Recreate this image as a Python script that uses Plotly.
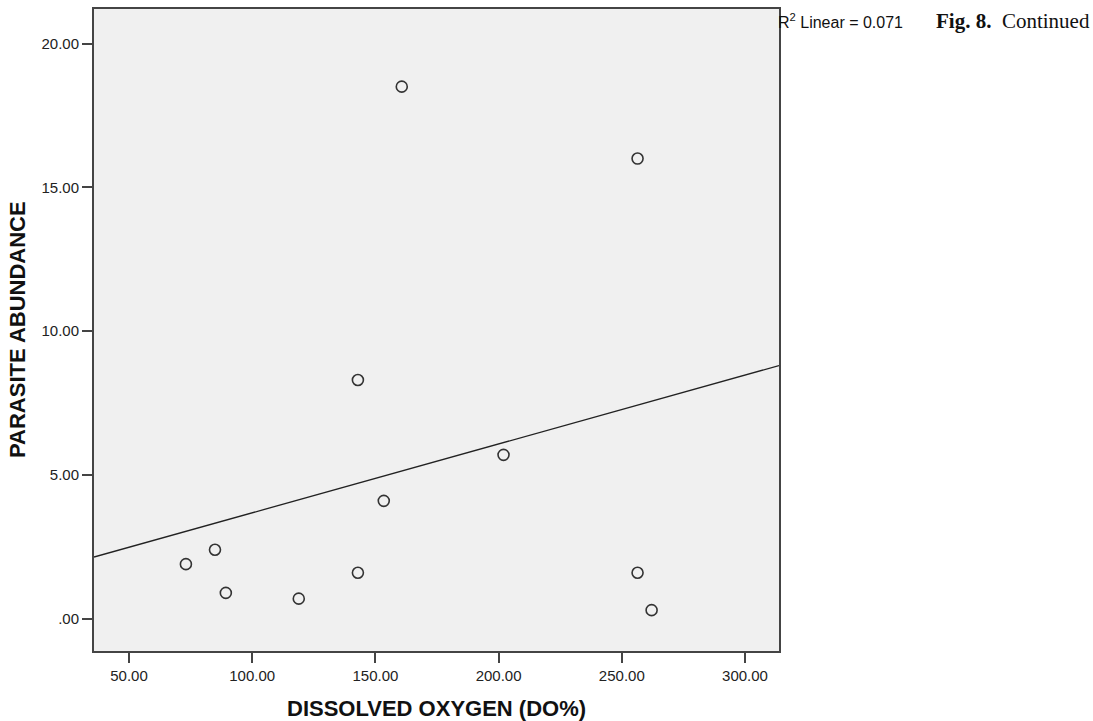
import numpy as np
import plotly.graph_objects as go

# Data
dissolved_oxygen = [73.1, 84.9, 89.3, 118.9, 142.9, 142.9, 153.4, 160.7, 202.0, 256.4, 256.4, 262.1]
parasite_abundance = [1.9, 2.4, 0.9, 0.7, 1.6, 8.3, 4.1, 18.5, 5.7, 16.0, 1.6, 0.3]

x_tick_vals = [50, 100, 150, 200, 250, 300]
x_tick_text = ["50.00", "100.00", "150.00", "200.00", "250.00", "300.00"]
y_tick_vals = [0, 5, 10, 15, 20]
y_tick_text = [".00", "5.00", "10.00", "15.00", "20.00"]

x_range = [35.8, 313.8]
y_range = [-1.12, 21.2]

# Linear fit
slope, intercept = np.polyfit(dissolved_oxygen, parasite_abundance, 1)
fit_x = np.array(x_range)
fit_y = slope * fit_x + intercept

fig = go.Figure()
fig.add_trace(go.Scatter(
    x=fit_x, y=fit_y, mode="lines",
    line=dict(color="#222222", width=1.3),
    hoverinfo="skip", showlegend=False,
))
fig.add_trace(go.Scatter(
    x=dissolved_oxygen, y=parasite_abundance, mode="markers",
    marker=dict(symbol="circle-open", size=11, color="#333333",
                line=dict(width=1.6, color="#333333")),
    showlegend=False,
))

axis_common = dict(
    showgrid=False, zeroline=False, automargin=False,
    showline=True, mirror=True, linecolor="#444444", linewidth=2,
    ticks="outside", ticklen=10, tickwidth=2, tickcolor="#444444",
    tickfont=dict(family="Liberation Sans, Arial, sans-serif", size=15, color="#222222"),
)

fig.update_xaxes(range=x_range, tickvals=x_tick_vals, ticktext=x_tick_text, **axis_common)
fig.update_yaxes(range=y_range, tickvals=y_tick_vals, ticktext=y_tick_text, **axis_common)

title_font = dict(family="Liberation Sans, Arial, sans-serif", size=22, color="#111111")
fig.add_annotation(
    xref="paper", yref="paper", x=0.5, y=0, xanchor="center", yanchor="middle",
    yshift=-57, text="<b>DISSOLVED OXYGEN (DO%)</b>", showarrow=False, font=title_font,
)
fig.add_annotation(
    xref="paper", yref="paper", x=0, y=0.5, xanchor="center", yanchor="middle",
    xshift=-77, textangle=-90, text="<b>PARASITE ABUNDANCE</b>", showarrow=False, font=title_font,
)

fig.add_annotation(
    xref="paper", yref="paper", x=1.0, y=1.0, xanchor="left", yanchor="middle",
    xshift=-3, yshift=-12,
    text="R<sup>2</sup> Linear = 0.071", showarrow=False,
    font=dict(family="Liberation Sans, Arial, sans-serif", size=16, color="#111111"),
)
fig.add_annotation(
    xref="paper", yref="paper", x=1.0, y=1.0, xanchor="left", yanchor="middle",
    xshift=155, yshift=-12,
    text="<b>Fig. 8.</b>  Continued", showarrow=False,
    font=dict(family="Liberation Serif, DejaVu Serif, serif", size=21, color="#111111"),
)

fig.update_layout(
    width=1093, height=721,
    margin=dict(l=94, r=314, t=9, b=70),
    plot_bgcolor="#f0f0f0", paper_bgcolor="white",
    showlegend=False,
)

fig.write_html(
    "out.html",
    config={"displayModeBar": False},
    post_script="document.body.style.margin='0';document.body.style.overflow='hidden';",
)
